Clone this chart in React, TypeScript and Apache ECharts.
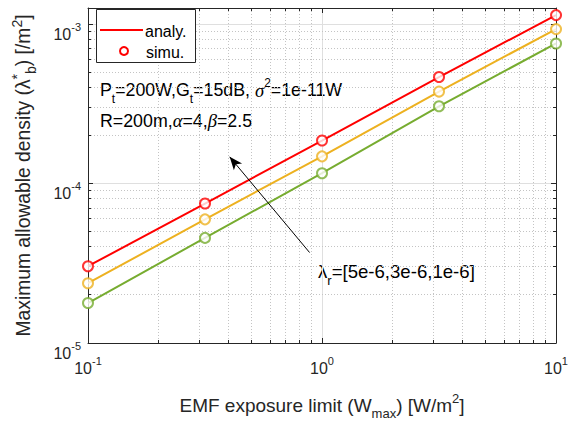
import React, { useEffect, useRef } from "react";
import * as echarts from "echarts";

// ---- data ----
const exposureLimits = [0.1, 0.3162, 1, 3.162, 10];
const densityLambda5e6 = [3.03e-5, 7.49e-5, 1.86e-4, 4.65e-4, 1.137e-3];
const densityLambda3e6 = [2.37e-5, 5.96e-5, 1.48e-4, 3.77e-4, 9.29e-4];
const densityLambda1e6 = [1.78e-5, 4.56e-5, 1.16e-4, 3.05e-4, 7.55e-4];
const seriesColors = ["#FF0000", "#EDB120", "#77AC30"];
const legendLabels = ["analy.", "simu."];
const xMinorTicks = [0.2, 0.3, 0.4, 0.5, 0.6, 0.7, 0.8, 0.9, 2, 3, 4, 5, 6, 7, 8, 9];
const yMinorTicks = [
  2e-5, 3e-5, 4e-5, 5e-5, 6e-5, 7e-5, 8e-5, 9e-5,
  2e-4, 3e-4, 4e-4, 5e-4, 6e-4, 7e-4, 8e-4, 9e-4,
];
const X_MIN = 0.1;
const X_MAX = 10;
const Y_MIN = 1e-5;
const Y_MAX = 1.26e-3;

const FONT = "Liberation Sans, Arial, Helvetica, sans-serif";
const GREEK = "Liberation Serif, Times New Roman, serif";
const AXIS_COLOR = "#262626";

const tickRich = {
  b: { fontSize: 16, lineHeight: 16, padding: [10, 0, 0, 0], verticalAlign: "top", color: AXIS_COLOR, fontFamily: FONT },
  e: { fontSize: 11, lineHeight: 10, padding: [5, 0, 0, 0], verticalAlign: "top", color: AXIS_COLOR, fontFamily: FONT },
};

const powFormatter = (value: number) => {
  const lg = Math.log10(value);
  const ex = Math.round(lg);
  if (Math.abs(lg - ex) > 0.01) return "";
  return `{b|10}{e|${ex}}`;
};

const titleRich = (size: number, color = AXIS_COLOR) => ({
  n: { fontSize: size, lineHeight: 30, verticalAlign: "middle", color, fontFamily: FONT },
  g: { fontSize: size * 1.05, lineHeight: 30, verticalAlign: "middle", color, fontFamily: GREEK, fontStyle: "italic" },
  sup: { fontSize: Math.round(size * 0.7), lineHeight: 12, padding: [2, 0, 0, 0], verticalAlign: "top", color, fontFamily: FONT },
  sub: { fontSize: Math.round(size * 0.7), lineHeight: 12, verticalAlign: "bottom", color, fontFamily: FONT },
});

export default function App() {
  const ref = useRef<HTMLDivElement>(null);

  useEffect(() => {
    if (!ref.current) return;
    const chart = echarts.init(ref.current, undefined, { renderer: "svg" });

    const allSeries = [densityLambda5e6, densityLambda3e6, densityLambda1e6];
    const pairs = (vals: number[]) => exposureLimits.map((x, i) => [x, vals[i]]);

    const lineSeries = allSeries.map((vals, i) => ({
      name: `${legendLabels[0]}${i}`,
      type: "line",
      data: pairs(vals),
      symbol: "none",
      showSymbol: false,
      color: seriesColors[i],
      lineStyle: { color: seriesColors[i], width: 2 },
      z: 3,
    }));
    const scatterSeries = allSeries.map((vals, i) => ({
      name: `${legendLabels[1]}${i}`,
      type: "scatter",
      data: pairs(vals),
      symbol: "emptyCircle",
      symbolSize: 10,
      color: seriesColors[i],
      itemStyle: { color: seriesColors[i], borderColor: seriesColors[i], borderWidth: 2 },
      z: 4,
      ...(i === 2
        ? {
            markLine: {
              silent: true,
              symbol: ["none", "arrow"],
              symbolSize: [8, 13],
              label: { show: false },
              lineStyle: { color: "#000", width: 1, type: "solid" },
              data: [[{ coord: [0.885, 3.69e-5] }, { coord: [0.403, 1.47e-4] }]],
            },
          }
        : {}),
    }));

    const snap = (v: number) => Math.round(v - 0.5) + 0.5;

    const xMinorSeries = {
      type: "custom",
      silent: true,
      z: 1,
      data: xMinorTicks.map((v) => [v, Y_MIN]),
      renderItem: (params: any, api: any) => {
        const cs = params.coordSys;
        const px = snap(api.coord([api.value(0), Y_MIN])[0]);
        const top = cs.y;
        const bottom = cs.y + cs.height;
        return {
          type: "group",
          children: [
            { type: "line", shape: { x1: px, y1: top, x2: px, y2: bottom }, style: { stroke: "#c4c4c4", lineWidth: 1, lineDash: [1, 2] } },
            { type: "line", shape: { x1: px, y1: bottom, x2: px, y2: bottom - 3 }, style: { stroke: AXIS_COLOR, lineWidth: 1 } },
            { type: "line", shape: { x1: px, y1: top, x2: px, y2: top + 3 }, style: { stroke: AXIS_COLOR, lineWidth: 1 } },
          ],
        };
      },
    };
    const yMinorSeries = {
      type: "custom",
      silent: true,
      z: 1,
      data: yMinorTicks.map((v) => [X_MIN, v]),
      renderItem: (params: any, api: any) => {
        const cs = params.coordSys;
        const py = snap(api.coord([X_MIN, api.value(1)])[1]);
        const left = cs.x;
        const right = cs.x + cs.width;
        return {
          type: "group",
          children: [
            { type: "line", shape: { x1: left, y1: py, x2: right, y2: py }, style: { stroke: "#c4c4c4", lineWidth: 1, lineDash: [1, 2] } },
            { type: "line", shape: { x1: left, y1: py, x2: left + 3, y2: py }, style: { stroke: AXIS_COLOR, lineWidth: 1 } },
            { type: "line", shape: { x1: right, y1: py, x2: right - 3, y2: py }, style: { stroke: AXIS_COLOR, lineWidth: 1 } },
          ],
        };
      },
    };

    const commonAxis = {
      type: "log",
      logBase: 10,
      axisLine: { show: true, lineStyle: { color: AXIS_COLOR, width: 1 } },
      axisTick: { show: true, inside: true, length: 5, lineStyle: { color: AXIS_COLOR } },
      minorTick: { show: false },
    };

    const option: any = {
      animation: false,
      backgroundColor: "#ffffff",
      grid: { left: 87, right: 11, top: 8, bottom: 67, containLabel: false },
      xAxis: [
        {
          ...commonAxis,
          position: "bottom",
          min: X_MIN,
          max: X_MAX,
          axisLabel: { formatter: powFormatter, rich: tickRich, margin: 7 },
          splitLine: { show: true, lineStyle: { color: "#dfdfdf", width: 1 } },
          name: "{n|EMF exposure limit (W}{sub|max}{n|) [W/m}{sup|2}{n|]}",
          nameLocation: "middle",
          nameGap: 47,
          nameTextStyle: { rich: titleRich(19) },
        },
        {
          ...commonAxis,
          position: "top",
          min: X_MIN,
          max: X_MAX,
          axisLabel: { show: false },
          splitLine: { show: false },
        },
      ],
      yAxis: [
        {
          ...commonAxis,
          position: "left",
          min: Y_MIN,
          max: Y_MAX,
          axisLabel: { formatter: powFormatter, rich: tickRich, margin: 7 },
          splitLine: { show: true, lineStyle: { color: "#dfdfdf", width: 1 } },
          name: "{n|Maximum allowable density (λ}{sup|*}{sub|b}{n|) [/m}{sup|2}{n|]}",
          nameLocation: "middle",
          nameGap: 50,
          nameRotate: 90,
          nameTextStyle: { rich: titleRich(19.3) },
        },
        {
          ...commonAxis,
          position: "right",
          min: Y_MIN,
          max: Y_MAX,
          axisLabel: { show: false },
          splitLine: { show: false },
        },
      ],
      graphic: [
        {
          type: "group",
          z: 100,
          children: [
            { type: "rect", shape: { x: 96.5, y: 9.5, width: 99, height: 53 }, style: { fill: "#fff", stroke: AXIS_COLOR, lineWidth: 1 }, z: 100 },
            { type: "line", shape: { x1: 100, y1: 30, x2: 143, y2: 30 }, style: { stroke: seriesColors[0], lineWidth: 2 }, z: 101 },
            { type: "circle", shape: { cx: 124, cy: 51, r: 4 }, style: { fill: "#fff", stroke: seriesColors[0], lineWidth: 2 }, z: 101 },
            { type: "text", x: 145, y: 31, style: { text: legendLabels[0], fontSize: 16, fontFamily: FONT, fill: "#000", verticalAlign: "middle" }, z: 101 },
            { type: "text", x: 146, y: 52, style: { text: legendLabels[1], fontSize: 16, fontFamily: FONT, fill: "#000", verticalAlign: "middle" }, z: 101 },
          ],
        },
        {
          type: "text",
          left: 100,
          top: 75,
          style: {
            text: "{n|P}{sub|t}{n|=200W,G}{sub|t}{n|=15dB, }{g|σ}{sup|2}{n|=1e-11W}",
            rich: titleRich(17.8, "#000"),
          },
        },
        {
          type: "text",
          left: 100,
          top: 111,
          style: {
            text: "{n|R=200m,}{g|α}{n|=4,}{g|β}{n|=2.5}",
            rich: titleRich(17.8, "#000"),
          },
        },
        {
          type: "text",
          left: 318,
          top: 262,
          style: {
            text: "{n|λ}{sub|r}{n|=[5e-6,3e-6,1e-6]}",
            rich: titleRich(18.6, "#000"),
          },
        },
      ],
      series: [xMinorSeries, yMinorSeries, ...lineSeries, ...scatterSeries],
    };

    chart.setOption(option);
    return () => chart.dispose();
  }, []);

  return (
    <div
      ref={ref}
      style={{ position: "fixed", left: 0, top: 0, width: 571, height: 425, background: "#fff" }}
    />
  );
}
